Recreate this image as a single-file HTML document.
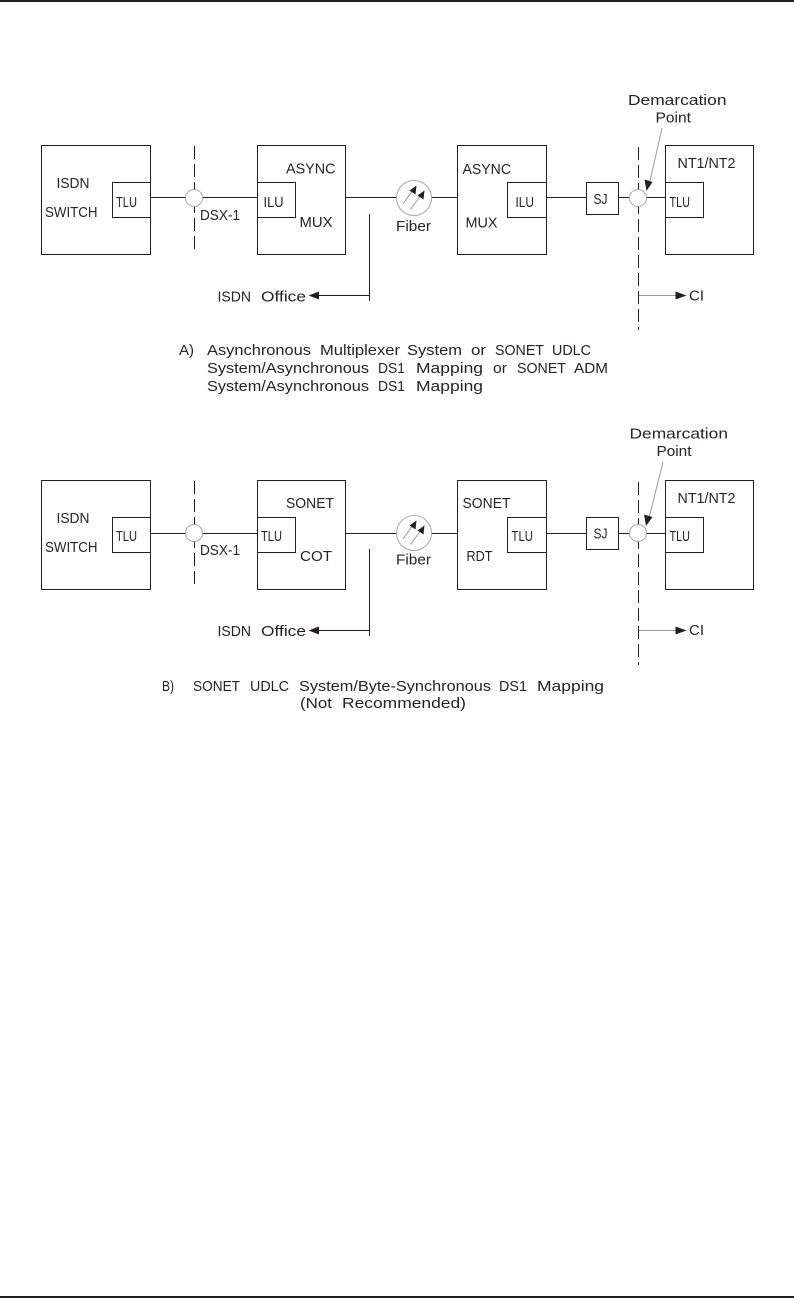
<!DOCTYPE html>
<html>
<head>
<meta charset="utf-8">
<style>
html,body{margin:0;padding:0;background:#fff}
svg{display:block}
text{font-family:"Liberation Sans",sans-serif;font-size:14.5px;fill:#262324}
.b{fill:none;stroke:#231f20;stroke-width:1}
.l{stroke:#231f20;stroke-width:1;fill:none}
.d{stroke:#231f20;stroke-width:1;fill:none;stroke-dasharray:13 5}
.c{fill:#fff;stroke:#a8a8a8;stroke-width:1}
.g{stroke:#9a9a9a;stroke-width:1;fill:none}
.a{fill:#231f20;stroke:none}
</style>
</head>
<body>
<svg width="794" height="1298" viewBox="0 0 794 1298" xmlns="http://www.w3.org/2000/svg">
<rect x="0" y="0" width="794" height="1298" fill="#fff"/>
<rect x="0" y="0" width="794" height="2" fill="#231f20"/>
<rect x="0" y="1296" width="794" height="2" fill="#231f20"/>

<defs>
<g id="shapes">
  <rect class="b" x="41.5" y="145.5" width="109" height="109"/>
  <rect class="b" x="112.5" y="182.5" width="38" height="35"/>
  <rect class="b" x="257.5" y="145.5" width="88" height="109"/>
  <rect class="b" x="257.5" y="182.5" width="38" height="35"/>
  <rect class="b" x="457.5" y="145.5" width="89" height="109"/>
  <rect class="b" x="507.5" y="182.5" width="39" height="35"/>
  <rect class="b" x="665.5" y="145.5" width="88" height="109"/>
  <rect class="b" x="665.5" y="182.5" width="38" height="35"/>
  <path class="d" d="M194.5 146V250"/>
  <path class="d" d="M638.5 147V330"/>
  <path class="l" d="M369.500 214V301M369.500 295.500H317"/>
  <path class="a" d="M308.500 295.500L319 291.500V299.500Z"/>
  <path class="g" d="M639 295.500H677"/>
  <path class="a" d="M686.500 295.500L675.500 291.500V299.500Z"/>
</g>
<g id="nodes">
  <circle class="c" cx="194" cy="198" r="8.5"/>
  <circle class="c" cx="638" cy="198" r="8.5"/>
  <circle class="c" cx="414" cy="198" r="17.5"/>
  <path class="g" d="M403 204L413 190M410.5 209.500L421 195"/>
  <path class="a" d="M416.500 185.500L415.500 194.500L409.500 190.500Z"/>
  <path class="a" d="M424.500 190.500L423.500 199.500L417.500 195.500Z"/>
</g>
</defs>

<use href="#shapes"/>
<use href="#shapes" y="335"/>

<!-- Connector rows and SJ boxes -->
<path class="l" d="M150.500 197.500H257.500M345.500 197.500H457.500M546.500 197.500H586.500M618.500 197.500H665.500"/>
<path class="l" d="M150.500 533.500H257.500M345.500 533.500H457.500M546.500 533.500H586.500M618.500 533.500H665.500"/>
<rect class="b" x="586.5" y="182.5" width="32" height="32"/>
<rect class="b" x="586.5" y="517.5" width="32" height="32"/>

<use href="#nodes"/>
<use href="#nodes" y="335"/>

<!-- Leader lines -->
<path class="g" d="M662 128L650 181"/>
<path class="a" d="M646.500 191L644.500 179.500L652.500 182Z"/>
<path class="g" d="M663 462L649.500 516"/>
<path class="a" d="M646 526L644 514.500L652.500 517Z"/>

<!-- Diagram A -->
<text x="56.500" y="188" textLength="33" lengthAdjust="spacingAndGlyphs">ISDN</text>
<text x="45" y="217" textLength="52.500" lengthAdjust="spacingAndGlyphs">SWITCH</text>
<text x="116" y="207" textLength="21" lengthAdjust="spacingAndGlyphs">TLU</text>
<text x="200" y="220" textLength="40" lengthAdjust="spacingAndGlyphs">DSX-1</text>
<text x="286" y="173.500" textLength="49.500" lengthAdjust="spacingAndGlyphs">ASYNC</text>
<text x="263.500" y="207" textLength="20" lengthAdjust="spacingAndGlyphs">ILU</text>
<text x="299.500" y="227" textLength="33" lengthAdjust="spacingAndGlyphs">MUX</text>
<text x="396" y="231" textLength="35" lengthAdjust="spacingAndGlyphs">Fiber</text>
<text x="462.500" y="174" textLength="48.500" lengthAdjust="spacingAndGlyphs">ASYNC</text>
<text x="515.500" y="207" textLength="18.500" lengthAdjust="spacingAndGlyphs">ILU</text>
<text x="465.500" y="227.500" textLength="32" lengthAdjust="spacingAndGlyphs">MUX</text>
<text x="593.500" y="204" textLength="14" lengthAdjust="spacingAndGlyphs">SJ</text>
<text x="677.500" y="168" textLength="58" lengthAdjust="spacingAndGlyphs">NT1/NT2</text>
<text x="669.500" y="207" textLength="20.500" lengthAdjust="spacingAndGlyphs">TLU</text>
<text x="628" y="105" textLength="98.500" lengthAdjust="spacingAndGlyphs">Demarcation</text>
<text x="655.500" y="122.500" textLength="35.500" lengthAdjust="spacingAndGlyphs">Point</text>
<text x="689" y="300.500" textLength="15" lengthAdjust="spacingAndGlyphs">CI</text>
<text x="217.500" y="301.500" textLength="33.500" lengthAdjust="spacingAndGlyphs">ISDN</text>
<text x="261" y="301.500" textLength="45" lengthAdjust="spacingAndGlyphs">Office</text>

<text x="179" y="355" textLength="15" lengthAdjust="spacingAndGlyphs">A)</text>
<text x="207" y="355" textLength="104" lengthAdjust="spacingAndGlyphs">Asynchronous</text>
<text x="320" y="355" textLength="80" lengthAdjust="spacingAndGlyphs">Multiplexer</text>
<text x="407" y="355" textLength="55" lengthAdjust="spacingAndGlyphs">System</text>
<text x="471" y="355" textLength="15" lengthAdjust="spacingAndGlyphs">or</text>
<text x="495" y="355" textLength="49" lengthAdjust="spacingAndGlyphs">SONET</text>
<text x="552" y="355" textLength="39" lengthAdjust="spacingAndGlyphs">UDLC</text>

<text x="207" y="373" textLength="162" lengthAdjust="spacingAndGlyphs">System/Asynchronous</text>
<text x="378" y="373" textLength="27" lengthAdjust="spacingAndGlyphs">DS1</text>
<text x="416" y="373" textLength="67" lengthAdjust="spacingAndGlyphs">Mapping</text>
<text x="493" y="373" textLength="14" lengthAdjust="spacingAndGlyphs">or</text>
<text x="517" y="373" textLength="49" lengthAdjust="spacingAndGlyphs">SONET</text>
<text x="574" y="373" textLength="34" lengthAdjust="spacingAndGlyphs">ADM</text>

<text x="207" y="391" textLength="162" lengthAdjust="spacingAndGlyphs">System/Asynchronous</text>
<text x="378" y="391" textLength="27" lengthAdjust="spacingAndGlyphs">DS1</text>
<text x="416" y="391" textLength="67" lengthAdjust="spacingAndGlyphs">Mapping</text>

<!-- Diagram B -->
<text x="56.500" y="523" textLength="33" lengthAdjust="spacingAndGlyphs">ISDN</text>
<text x="45" y="552" textLength="52.500" lengthAdjust="spacingAndGlyphs">SWITCH</text>
<text x="116" y="541" textLength="21" lengthAdjust="spacingAndGlyphs">TLU</text>
<text x="200" y="555" textLength="40" lengthAdjust="spacingAndGlyphs">DSX-1</text>
<text x="286" y="508" textLength="48" lengthAdjust="spacingAndGlyphs">SONET</text>
<text x="261" y="541" textLength="21" lengthAdjust="spacingAndGlyphs">TLU</text>
<text x="300" y="561" textLength="32" lengthAdjust="spacingAndGlyphs">COT</text>
<text x="396" y="564.500" textLength="35" lengthAdjust="spacingAndGlyphs">Fiber</text>
<text x="462.500" y="508" textLength="48" lengthAdjust="spacingAndGlyphs">SONET</text>
<text x="511.500" y="541" textLength="21.500" lengthAdjust="spacingAndGlyphs">TLU</text>
<text x="466.500" y="561" textLength="26" lengthAdjust="spacingAndGlyphs">RDT</text>
<text x="593.500" y="538.500" textLength="14" lengthAdjust="spacingAndGlyphs">SJ</text>
<text x="677.500" y="503" textLength="58" lengthAdjust="spacingAndGlyphs">NT1/NT2</text>
<text x="669.500" y="541" textLength="20.500" lengthAdjust="spacingAndGlyphs">TLU</text>
<text x="629.500" y="438.500" textLength="98.500" lengthAdjust="spacingAndGlyphs">Demarcation</text>
<text x="656.500" y="456" textLength="35" lengthAdjust="spacingAndGlyphs">Point</text>
<text x="689" y="635" textLength="15" lengthAdjust="spacingAndGlyphs">CI</text>
<text x="217.500" y="636" textLength="33.500" lengthAdjust="spacingAndGlyphs">ISDN</text>
<text x="261" y="636" textLength="45" lengthAdjust="spacingAndGlyphs">Office</text>

<text x="162" y="691" textLength="12" lengthAdjust="spacingAndGlyphs">B)</text>
<text x="193" y="691" textLength="47" lengthAdjust="spacingAndGlyphs">SONET</text>
<text x="250" y="691" textLength="39" lengthAdjust="spacingAndGlyphs">UDLC</text>
<text x="299" y="691" textLength="192" lengthAdjust="spacingAndGlyphs">System/Byte-Synchronous</text>
<text x="499" y="691" textLength="28" lengthAdjust="spacingAndGlyphs">DS1</text>
<text x="537" y="691" textLength="67" lengthAdjust="spacingAndGlyphs">Mapping</text>
<text x="300" y="708" textLength="32" lengthAdjust="spacingAndGlyphs">(Not</text>
<text x="342" y="708" textLength="124" lengthAdjust="spacingAndGlyphs">Recommended)</text>
</svg>
</body>
</html>
